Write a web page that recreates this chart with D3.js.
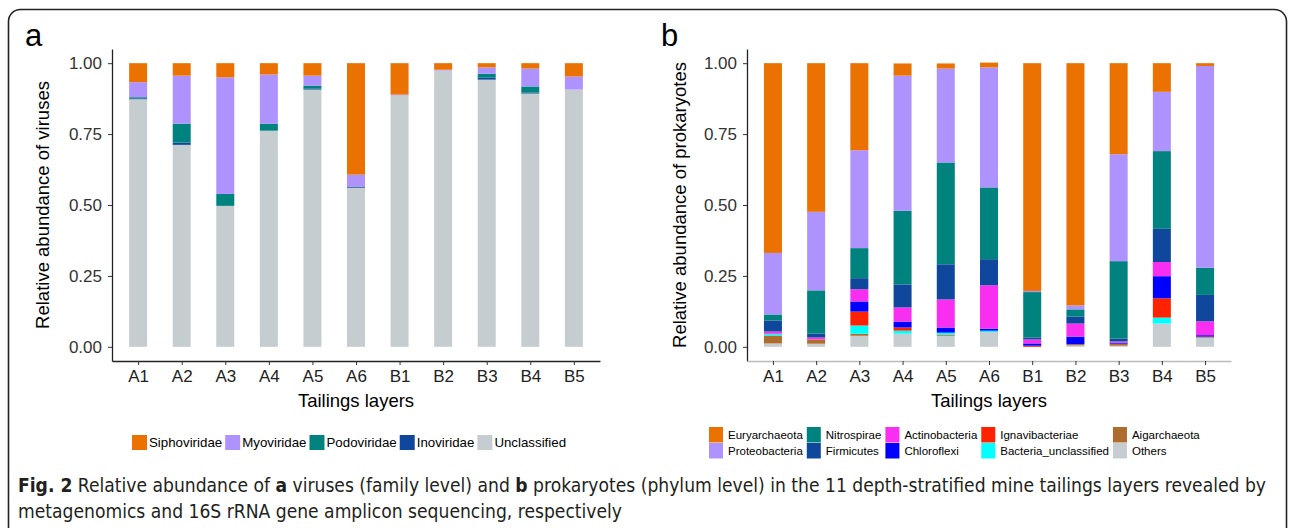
<!DOCTYPE html>
<html>
<head>
<meta charset="utf-8">
<script src="https://cdn.jsdelivr.net/npm/d3@7"></script>
<style>
  body { margin: 0; background: #fff; }
  svg { display: block; font-family: "Liberation Sans", Arial, sans-serif; }
</style>
</head>
<body>
<script>
// DATA
var layers = ["A1", "A2", "A3", "A4", "A5", "A6", "B1", "B2", "B3", "B4", "B5"];
var yTicks = [0, 0.25, 0.5, 0.75, 1];

// panel a: viruses (family level), stacked bottom -> top
var virusKeys = ["Unclassified", "Inoviridae", "Podoviridae", "Myoviridae", "Siphoviridae"];
var virusLegend = ["Siphoviridae", "Myoviridae", "Podoviridae", "Inoviridae", "Unclassified"];
var unclassified = [0.873, 0.712, 0.497, 0.762, 0.907, 0.561, 0.886, 0.974, 0.942, 0.893, 0.907];
var inoviridae   = [0.003, 0.008, 0.000, 0.000, 0.003, 0.004, 0.000, 0.000, 0.007, 0.003, 0.000];
var podoviridae  = [0.004, 0.067, 0.042, 0.025, 0.011, 0.000, 0.000, 0.000, 0.014, 0.022, 0.000];
var myoviridae   = [0.053, 0.169, 0.411, 0.173, 0.035, 0.042, 0.003, 0.003, 0.022, 0.063, 0.046];
var siphoviridae = [0.067, 0.044, 0.050, 0.040, 0.044, 0.393, 0.111, 0.023, 0.015, 0.019, 0.047];

// panel b: prokaryotes (phylum level), stacked bottom -> top
var prokKeys = ["Others", "Aigarchaeota", "Bacteria_unclassified", "Ignavibacteriae", "Chloroflexi",
                "Actinobacteria", "Firmicutes", "Nitrospirae", "Proteobacteria", "Euryarchaeota"];
var prokLegend = ["Euryarchaeota", "Proteobacteria", "Nitrospirae", "Firmicutes", "Actinobacteria",
                  "Chloroflexi", "Ignavibacteriae", "Bacteria_unclassified", "Aigarchaeota", "Others"];
var others         = [0.012, 0.011, 0.039, 0.046, 0.039, 0.052, 0.000, 0.005, 0.004, 0.082, 0.031];
var aigarchaeota   = [0.028, 0.015, 0.007, 0.000, 0.004, 0.000, 0.000, 0.004, 0.007, 0.000, 0.000];
var bactUnclass    = [0.006, 0.000, 0.029, 0.011, 0.007, 0.005, 0.000, 0.000, 0.000, 0.021, 0.002];
var ignavibacteriae= [0.000, 0.000, 0.049, 0.011, 0.000, 0.000, 0.004, 0.000, 0.000, 0.068, 0.003];
var chloroflexi    = [0.000, 0.000, 0.036, 0.021, 0.018, 0.007, 0.008, 0.027, 0.004, 0.078, 0.005];
var actinobacteria = [0.008, 0.007, 0.043, 0.050, 0.099, 0.153, 0.014, 0.046, 0.004, 0.050, 0.049];
var firmicutes     = [0.039, 0.014, 0.039, 0.081, 0.124, 0.092, 0.007, 0.025, 0.010, 0.117, 0.093];
var nitrospirae    = [0.021, 0.152, 0.106, 0.260, 0.359, 0.253, 0.160, 0.025, 0.273, 0.274, 0.096];
var proteobacteria = [0.217, 0.277, 0.345, 0.476, 0.331, 0.423, 0.004, 0.014, 0.377, 0.209, 0.711];
var euryarchaeota  = [0.669, 0.524, 0.307, 0.043, 0.018, 0.017, 0.803, 0.854, 0.321, 0.101, 0.010];

var virusColors = {
  Siphoviridae: "#EB7100", Myoviridae: "#AE93FF", Podoviridae: "#00827F",
  Inoviridae: "#0E479C", Unclassified: "#C6CDD0"
};
var prokColors = {
  Euryarchaeota: "#EB7100", Proteobacteria: "#AE93FF", Nitrospirae: "#00827F",
  Firmicutes: "#0E479C", Actinobacteria: "#F82FF0", Chloroflexi: "#0000FF",
  Ignavibacteriae: "#FF2200", Bacteria_unclassified: "#00FFFF", Aigarchaeota: "#AE6D2C",
  Others: "#C6CDD0"
};

var virusRows = layers.map(function (l, i) {
  return { layer: l, Unclassified: unclassified[i], Inoviridae: inoviridae[i],
           Podoviridae: podoviridae[i], Myoviridae: myoviridae[i], Siphoviridae: siphoviridae[i] };
});
var prokRows = layers.map(function (l, i) {
  return { layer: l, Others: others[i], Aigarchaeota: aigarchaeota[i],
           Bacteria_unclassified: bactUnclass[i], Ignavibacteriae: ignavibacteriae[i],
           Chloroflexi: chloroflexi[i], Actinobacteria: actinobacteria[i], Firmicutes: firmicutes[i],
           Nitrospirae: nitrospirae[i], Proteobacteria: proteobacteria[i], Euryarchaeota: euryarchaeota[i] };
});

// SVG
var svg = d3.select("body").append("svg")
    .attr("width", 1295)
    .attr("height", 528);

// outer frame
svg.append("rect")
    .attr("x", 8.5).attr("y", 9.5)
    .attr("width", 1278).attr("height", 540)
    .attr("rx", 12)
    .attr("fill", "none")
    .attr("stroke", "#222")
    .attr("stroke-width", 1.6);

function drawPanel(p) {
  var x = d3.scalePoint().domain(layers).range([p.left, p.right]).padding(0.6);
  var y = d3.scaleLinear().domain([-0.05, 1.05]).range([361, 49]);
  var g = svg.append("g");

  var series = d3.stack().keys(p.keys)(p.rows);
  g.selectAll("g.layer")
    .data(series)
    .enter().append("g")
    .attr("class", "layer")
    .attr("fill", function (d) { return p.colors[d.key]; })
    .selectAll("rect")
    .data(function (d) { return d; })
    .enter().append("rect")
    .attr("x", function (d) { return x(d.data.layer) - 9; })
    .attr("width", 18)
    .attr("y", function (d) { return y(d[1]); })
    .attr("height", function (d) { return Math.max(0, y(d[0]) - y(d[1])); });

  var leftAxis = d3.axisLeft(y).tickValues(yTicks)
      .tickFormat(d3.format(".2f")).tickSize(4).tickPadding(6).tickSizeOuter(0);
  var la = g.append("g").attr("transform", "translate(" + p.left + ",0)").call(leftAxis);
  la.selectAll("text").attr("font-size", "17px").attr("fill", "#333").attr("font-family", "Liberation Sans, Arial");
  la.selectAll("line").attr("stroke", "#333");
  la.select(".domain").attr("stroke", "#222").attr("stroke-width", 1.3);

  var bottomAxis = d3.axisBottom(x).tickSize(4).tickPadding(5).tickSizeOuter(0);
  var ba = g.append("g").attr("transform", "translate(0,361)").call(bottomAxis);
  ba.selectAll("text").attr("font-size", "17px").attr("fill", "#222").attr("font-family", "Liberation Sans, Arial");
  ba.selectAll("line").attr("stroke", "#333");
  ba.select(".domain").attr("stroke", p.xAxisColor).attr("stroke-width", 1.3);

  g.append("text")
    .attr("x", (p.left + p.right) / 2)
    .attr("y", 407)
    .attr("text-anchor", "middle")
    .attr("font-size", "18.5px")
    .text("Tailings layers");

  g.append("text")
    .attr("transform", "translate(" + p.titleX + ",205) rotate(-90)")
    .attr("text-anchor", "middle")
    .attr("font-size", "18.5px")
    .text(p.yTitle);

  g.append("text")
    .attr("x", p.tagX).attr("y", 46)
    .attr("font-size", "31px")
    .text(p.tag);
}

drawPanel({ left: 112, right: 600, keys: virusKeys, rows: virusRows, colors: virusColors,
            yTitle: "Relative abundance of viruses", titleX: 49, tag: "a", tagX: 25,
            xAxisColor: "#222" });
drawPanel({ left: 747, right: 1231, keys: prokKeys, rows: prokRows, colors: prokColors,
            yTitle: "Relative abundance of prokaryotes", titleX: 686, tag: "b", tagX: 661,
            xAxisColor: "#bbb" });

// legend a: single row
var legA = svg.append("g").attr("transform", "translate(132,435)");
var cx = 0;
virusLegend.forEach(function (k) {
  legA.append("rect").attr("x", cx).attr("y", 0).attr("width", 15).attr("height", 15)
      .attr("fill", virusColors[k]);
  var t = legA.append("text").attr("x", cx + 17).attr("y", 12)
      .attr("font-size", "13.3px").text(k);
  cx += 17 + t.node().getComputedTextLength() + 3;
});

// legend b: two rows, filled by column
var legB = svg.append("g").attr("transform", "translate(709,427)");
var bx = 0;
for (var c = 0; c < 5; c++) {
  var maxW = 0;
  for (var r = 0; r < 2; r++) {
    var k = prokLegend[c * 2 + r];
    legB.append("rect").attr("x", bx).attr("y", r * 16).attr("width", 14).attr("height", 15.5)
        .attr("fill", prokColors[k]);
    var t = legB.append("text").attr("x", bx + 19).attr("y", r * 16 + 12)
        .attr("font-size", "11.5px").text(k);
    maxW = Math.max(maxW, t.node().getComputedTextLength());
  }
  bx += 19 + maxW + 4;
}

// caption
var capFont = "'Liberation Sans Narrow', 'DejaVu Sans Condensed', 'Liberation Sans', sans-serif";
var cap1 = svg.append("text").attr("x", 18).attr("y", 492)
    .attr("font-size", "19px").attr("fill", "#231F20")
    .attr("font-family", capFont).attr("font-stretch", "condensed")
    .attr("textLength", 1248).attr("lengthAdjust", "spacingAndGlyphs");
cap1.append("tspan").attr("font-weight", "bold").text("Fig. 2");
cap1.append("tspan").text(" Relative abundance of ");
cap1.append("tspan").attr("font-weight", "bold").text("a");
cap1.append("tspan").text(" viruses (family level) and ");
cap1.append("tspan").attr("font-weight", "bold").text("b");
cap1.append("tspan").text(" prokaryotes (phylum level) in the 11 depth-stratified mine tailings layers revealed by");

svg.append("text").attr("x", 18).attr("y", 518)
    .attr("font-size", "19px").attr("fill", "#231F20")
    .attr("font-family", capFont).attr("font-stretch", "condensed")
    .attr("textLength", 604).attr("lengthAdjust", "spacingAndGlyphs")
    .text("metagenomics and 16S rRNA gene amplicon sequencing, respectively");
</script>
</body>
</html>
